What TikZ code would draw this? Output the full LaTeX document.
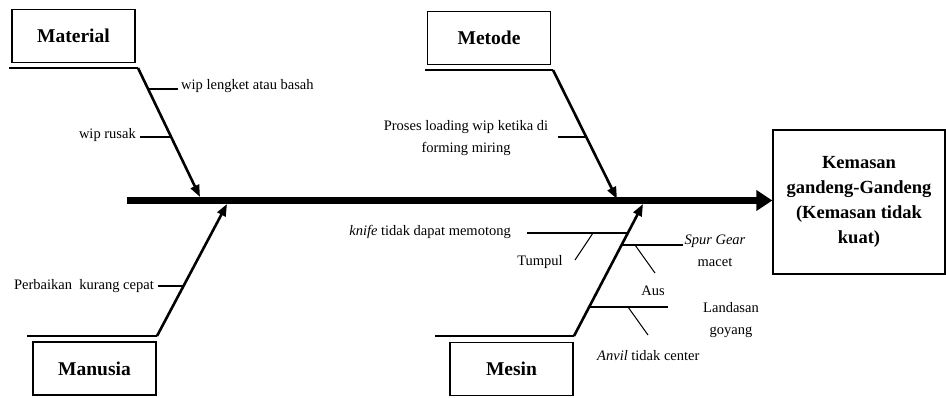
\documentclass[tikz,border=0pt]{standalone}
\usepackage{fontspec}
\setmainfont{Liberation Serif}
\usetikzlibrary{arrows.meta}
\begin{document}
\begin{tikzpicture}[x=1pt,y=-1pt,
  catbox/.style={draw,line width=1.3pt,minimum width=123pt,minimum height=53pt,inner sep=0pt,font=\fontsize{19.5}{22}\selectfont\bfseries},
  bone/.style={line width=2.6pt,-{Triangle[length=12pt,width=9pt]}},
  baseline/.style={line width=1.4pt},
  tickline/.style={line width=1.4pt},
  subtick/.style={line width=1pt},
  lbl/.style={font=\fontsize{14.5}{22}\selectfont,inner sep=1pt},
]
\useasboundingbox (0,0) rectangle (946,397);

% effect box and spine
\node[draw,line width=1.3pt,minimum width=172pt,minimum height=144pt,inner sep=0pt,align=center,
  font=\fontsize{18.5}{25}\selectfont\bfseries] (effect) at (859,202)
  {Kemasan\\gandeng-Gandeng\\(Kemasan tidak\\kuat)};
\coordinate (spine) at (127,200.5);
\draw[line width=7pt,-{Triangle[length=16pt,width=20pt]}] (spine) -- (spine -| effect.west);

% category boxes
\node[catbox] (material) at (73.5,36) {Material};
\node[catbox] (metode) at (489,38) {Metode};
\node[catbox] (manusia) at (94.5,368.5) {Manusia};
\node[catbox] (mesin) at (511.5,369) {Mesin};

% Material bone
\coordinate (matL) at (9,68);
\coordinate (matC) at (138,68);
\coordinate (matT) at (200,197);
\draw[baseline] (matL) -- (matC);
\draw[bone] (matC) -- (matT);
\coordinate (t1a) at (148,89);
\coordinate (t1b) at (178,89);
\draw[tickline] (t1a) -- (t1b);
\node[lbl,anchor=west] (wiplengket) at (180,86) {wip lengket atau basah};
\coordinate (t2a) at (140,137);
\coordinate (t2b) at (171,137);
\draw[tickline] (t2a) -- (t2b);
\node[lbl,anchor=east] (wiprusak) at (137,135) {wip rusak};

% Metode bone
\coordinate (metL) at (425,70);
\coordinate (metC) at (553,70);
\coordinate (metT) at (617,199);
\draw[baseline] (metL) -- (metC);
\draw[bone] (metC) -- (metT);
\coordinate (t3a) at (558,137);
\coordinate (t3b) at (586,137);
\draw[tickline] (t3a) -- (t3b);
\node[lbl,align=center] (proses) at (466,138) {Proses loading wip ketika di\\forming miring};

% Manusia bone
\coordinate (manL) at (27,336);
\coordinate (manC) at (157,336);
\coordinate (manT) at (227,204);
\draw[baseline] (manL) -- (manC);
\draw[bone] (manC) -- (manT);
\coordinate (t4a) at (158,286);
\coordinate (t4b) at (184,286);
\draw[tickline] (t4a) -- (t4b);
\node[lbl,anchor=east] (perbaikan) at (155,286) {Perbaikan\ \ kurang cepat};

% Mesin bone
\coordinate (mesL) at (435,336);
\coordinate (mesC) at (574,336);
\coordinate (mesT) at (643,204);
\draw[baseline] (mesL) -- (mesC);
\draw[bone] (mesC) -- (mesT);
% knife
\coordinate (k1) at (527,233);
\coordinate (k2) at (628,233);
\coordinate (k3) at (593,233);
\coordinate (k4) at (575,260);
\draw[tickline] (k1) -- (k2);
\draw[subtick] (k3) -- (k4);
\node[lbl,anchor=east] (knife) at (512,232) {\textit{knife} tidak dapat memotong};
\node[lbl] (tumpul) at (540,262) {Tumpul};
% spur gear
\coordinate (s1) at (622,245);
\coordinate (s2) at (683,245);
\coordinate (s3) at (635,245);
\coordinate (s4) at (655,273);
\draw[tickline] (s1) -- (s2);
\draw[subtick] (s3) -- (s4);
\node[lbl,align=center] (spur) at (715,251) {\textit{Spur Gear}\\macet};
\node[lbl] (aus) at (653,291) {Aus};
% landasan
\coordinate (l1) at (589,307);
\coordinate (l2) at (668,307);
\coordinate (l3) at (628,307);
\coordinate (l4) at (648,335);
\draw[tickline] (l1) -- (l2);
\draw[subtick] (l3) -- (l4);
\node[lbl,align=center] (landasan) at (731,320) {Landasan\\goyang};
\node[lbl,anchor=west] (anvil) at (596,356) {\textit{Anvil} tidak center};
\end{tikzpicture}
\end{document}
